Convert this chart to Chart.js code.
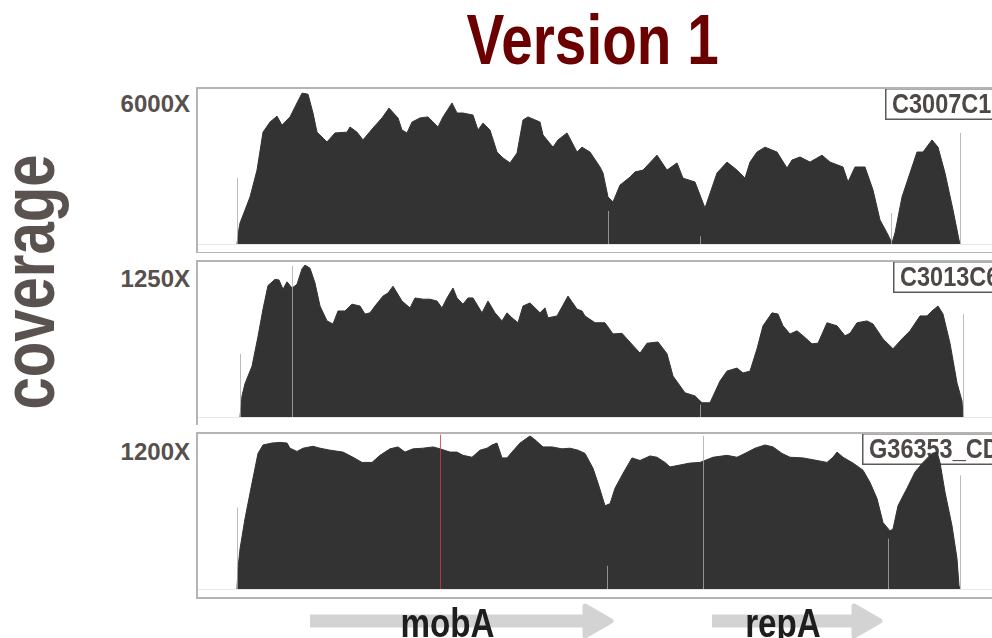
<!DOCTYPE html>
<html>
<head>
<meta charset="utf-8">
<script src="https://cdn.jsdelivr.net/npm/chart.js@4.4.0/dist/chart.umd.min.js"></script>
<style>
  html, body { margin: 0; padding: 0; background: #fff; }
  body {
    width: 992px; height: 638px; position: relative; overflow: hidden;
    font-family: "Liberation Sans", Arial, sans-serif; font-weight: bold;
  }
  canvas { position: absolute; left: 196px; }
  .title {
    position: absolute; left: 196px; width: 794px; top: 5px;
    text-align: center; font-size: 70px; line-height: 70px; color: #6b0000;
  }
  .title span { display: inline-block; transform: scaleX(0.81); }
  .ylab {
    position: absolute; left: 29px; top: 282px; white-space: nowrap;
    font-size: 74px; line-height: 74px; color: #5a524f;
    transform: translate(-50%, -50%) rotate(-90deg) scaleX(0.785);
  }
  .cap {
    position: absolute; right: 802px; font-size: 24px; line-height: 24px;
    color: #57504d; white-space: nowrap;
  }
</style>
</head>
<body>
<div class="title"><span>Version 1</span></div>
<div class="ylab">coverage</div>
<canvas id="c1" width="810" height="166" style="top:87px"></canvas>
<canvas id="c2" width="810" height="165" style="top:260px"></canvas>
<canvas id="c3" width="810" height="206" style="top:432px"></canvas>
<script>
// sample names (cut at the right edge like the original) and their y maximum
const samples = ['C3007C1', 'C3013C6', 'G36353_CD'];
const yMax = [6000, 1250, 1200];

// positions (bp) and coverage per sample
const pos1 = [0, 12, 18, 78, 120, 156, 198, 240, 270, 300, 318, 360, 390, 426, 456, 480, 540, 588, 660, 678,
  720, 756, 816, 870, 912, 966, 990, 1020, 1050, 1098, 1146, 1206, 1236, 1290, 1320, 1356, 1416, 1446, 1476, 1518,
  1560, 1596, 1638, 1680, 1716, 1746, 1818, 1836, 1896, 1926, 1980, 2040, 2070, 2118, 2178, 2196, 2226, 2256, 2298, 2358,
  2388, 2436, 2520, 2580, 2640, 2676, 2748, 2808, 2880, 2940, 3000, 3048, 3078, 3120, 3168, 3240, 3300, 3330, 3378, 3438,
  3510, 3558, 3636, 3666, 3708, 3768, 3816, 3858, 3900, 3930, 3948, 3990, 4038, 4080, 4116, 4170, 4206, 4248, 4296, 4332, 4338];
const cov1 = [0, 600, 810, 1820, 2860, 4330, 4720, 4950, 4600, 4800, 4920, 5460, 5840, 5800, 5070, 4330, 3950, 4300, 4330, 4530,
  4330, 4030, 4490, 4880, 5260, 4880, 4410, 4300, 4720, 4880, 4920, 4530, 4920, 5460, 5070, 5070, 4990, 4410, 4680, 4410,
  3560, 3330, 3140, 3520, 4800, 4920, 4720, 4220, 3750, 4030, 4300, 3560, 3750, 3560, 2980, 2750, 1820, 1630, 2280, 2590,
  2790, 2860, 3440, 2860, 3140, 2550, 2400, 1390, 2750, 3170, 2860, 2550, 3170, 3560, 3750, 3560, 2940, 3250, 3370, 3170,
  3440, 3170, 2980, 2400, 2980, 2980, 2090, 930, 430, 40, 430, 1820, 2750, 3560, 3560, 4030, 3750, 2750, 1320, 160, 0];

const pos2 = [18, 30, 48, 90, 126, 156, 186, 228, 252, 276, 300, 330, 360, 390, 408, 438, 468, 498, 540, 576,
  606, 648, 690, 738, 768, 798, 828, 876, 906, 936, 990, 1038, 1068, 1116, 1158, 1200, 1230, 1260, 1296, 1320,
  1356, 1386, 1416, 1470, 1506, 1548, 1590, 1620, 1650, 1686, 1716, 1758, 1818, 1848, 1866, 1920, 1986, 2040, 2070, 2088,
  2148, 2208, 2256, 2310, 2340, 2418, 2460, 2526, 2580, 2616, 2688, 2748, 2790, 2838, 2898, 2940, 3000, 3036, 3078, 3120,
  3156, 3210, 3246, 3276, 3318, 3360, 3396, 3450, 3486, 3540, 3600, 3648, 3678, 3720, 3780, 3816, 3876, 3936, 3990, 4038,
  4098, 4140, 4170, 4206, 4236, 4278, 4320, 4350, 4356];
const cov2 = [0, 170, 270, 410, 650, 870, 1060, 1110, 1105, 1030, 1090, 1040, 1070, 1195, 1225, 1200, 1080, 895, 775, 750,
  855, 855, 910, 895, 830, 840, 895, 975, 1000, 1055, 935, 880, 960, 950, 950, 935, 880, 960, 1040, 960,
  910, 960, 960, 840, 935, 840, 775, 840, 800, 760, 895, 920, 840, 880, 800, 815, 975, 870, 855, 815,
  760, 760, 670, 675, 630, 515, 595, 605, 510, 330, 195, 170, 115, 115, 290, 370, 395, 355, 370, 550,
  735, 840, 830, 735, 670, 695, 655, 590, 595, 760, 735, 655, 675, 760, 775, 750, 630, 550, 630, 695,
  815, 815, 855, 895, 830, 595, 275, 130, 0];

const pos3 = [0, 6, 18, 48, 90, 126, 156, 210, 258, 300, 318, 360, 396, 456, 498, 558, 636, 696, 750, 810,
  858, 918, 966, 1008, 1056, 1116, 1176, 1218, 1278, 1320, 1356, 1410, 1458, 1500, 1530, 1560, 1590, 1620, 1650, 1698,
  1758, 1788, 1836, 1890, 1950, 1998, 2046, 2088, 2136, 2166, 2208, 2238, 2268, 2316, 2370, 2418, 2478, 2520, 2568, 2598,
  2658, 2718, 2778, 2856, 2940, 3000, 3048, 3108, 3168, 3216, 3270, 3318, 3396, 3480, 3540, 3576, 3600, 3636, 3696, 3756,
  3798, 3840, 3876, 3918, 3936, 3966, 4020, 4068, 4116, 4170, 4200, 4218, 4248, 4290, 4320, 4332, 4338];
const cov3 = [0, 160, 310, 545, 820, 1050, 1115, 1130, 1135, 1130, 1090, 1065, 1090, 1105, 1090, 1075, 1060, 1020, 980, 980,
  1035, 1085, 1100, 1060, 1085, 1090, 1100, 1085, 1060, 1060, 1035, 1020, 1075, 1090, 1115, 1130, 1015, 1015, 1060, 1130,
  1185, 1155, 1100, 1100, 1085, 1090, 1075, 1050, 935, 820, 645, 660, 780, 895, 1015, 995, 1030, 1020, 980, 945,
  960, 975, 980, 1020, 1035, 1020, 1050, 1090, 1115, 1100, 1050, 1020, 1015, 995, 980, 1020, 1060, 1020, 975, 920,
  825, 700, 515, 450, 465, 645, 780, 905, 980, 1050, 1060, 980, 750, 490, 235, 25, 0];

// thin vertical marks (position, height in coverage units)
const markPos1 = [0, 2226, 2778, 3924, 4338];
const markTop1 = [2550, 1280, 300, 1200, 4300];
const markPos2 = [18, 330, 2778, 4356];
const markTop2 = [510, 1220, 100, 830];
const markPos3 = [0, 2220, 2796, 3906, 4338];
const markTop3 = [630, 180, 1185, 390, 880];
const redPos3 = [1218];
const redTop3 = [1195];

// genes under the bottom panel
const geneNames = ['mobA', 'repA'];
const geneStart = [438, 2850];
const geneEnd = [2256, 3870];

const panelPlugin = {
    id: 'panel',
    beforeDatasetsDraw(chart, args, opts) {
        const { ctx, chartArea: a, width } = chart;
        ctx.save();
        ctx.strokeStyle = '#e8e8e8';
        ctx.lineWidth = 1;
        ctx.beginPath();
        ctx.moveTo(0, a.bottom + 0.5);
        ctx.lineTo(width, a.bottom + 0.5);
        ctx.stroke();

        // sample name box
        ctx.fillStyle = '#fff';
        ctx.strokeStyle = '#5a5a5a';
        ctx.lineWidth = 1.5;
        ctx.fillRect(opts.labelX, a.top - 1, width, 31);
        ctx.strokeRect(opts.labelX + 0.75, a.top - 0.25, width, 30.5);
        ctx.fillStyle = '#4d4845';
        ctx.font = 'bold 28px "Liberation Sans", Arial, sans-serif';
        ctx.translate(opts.labelX + 7, a.top + 24);
        ctx.scale(0.84, 1);
        ctx.fillText(opts.label, 0, 0);
        ctx.restore();
    },
    afterDatasetsDraw(chart, args, opts) {
        const { ctx, chartArea: a, scales } = chart;
        const draw = (xs, tops, color) => {
            ctx.strokeStyle = color;
            ctx.lineWidth = 1;
            xs.forEach((p, i) => {
                const x = Math.round(scales.x.getPixelForValue(p)) + 0.5;
                ctx.beginPath();
                ctx.moveTo(x, a.bottom);
                ctx.lineTo(x, scales.y.getPixelForValue(tops[i]));
                ctx.stroke();
            });
        };
        ctx.save();
        draw(opts.marks, opts.markTops, 'rgba(170,170,170,0.8)');
        if (opts.red) draw(opts.red, opts.redTops, 'rgba(205,60,60,0.8)');
        ctx.restore();
    },
    afterDraw(chart, args, opts) {
        const { ctx, chartArea: a, width, scales } = chart;
        ctx.save();
        ctx.strokeStyle = '#b4b4b4';
        ctx.lineWidth = 2;
        ctx.strokeRect(1, a.top - 1, width + 10, a.bottom - a.top + 10);

        if (opts.genes) {
            const cy = a.bottom + 32;
            const head = 28;
            opts.genes.names.forEach((name, i) => {
                const x1 = scales.x.getPixelForValue(opts.genes.start[i]);
                const x2 = scales.x.getPixelForValue(opts.genes.end[i]);
                ctx.fillStyle = '#d3d3d3';
                ctx.fillRect(x1, cy - 6.5, x2 - head - x1 + 2, 13);
                ctx.beginPath();
                ctx.moveTo(x2 - head, cy - 15);
                ctx.lineTo(x2 - 2, cy);
                ctx.lineTo(x2 - head, cy + 15);
                ctx.closePath();
                ctx.strokeStyle = '#d3d3d3';
                ctx.lineWidth = 5;
                ctx.lineJoin = 'round';
                ctx.fill();
                ctx.stroke();

                ctx.save();
                ctx.fillStyle = '#1e1e1e';
                ctx.font = 'bold 40px "Liberation Sans", Arial, sans-serif';
                ctx.textAlign = 'center';
                ctx.translate((x1 + x2 - head) / 2, a.bottom + 48);
                ctx.scale(0.83, 1);
                ctx.fillText(name, 0, 0);
                ctx.restore();
            });
        }
        ctx.restore();
    }
};

function makePanel(id, pos, cov, i, extra, padBottom) {
    return new Chart(document.getElementById(id), {
        type: 'line',
        data: {
            datasets: [{
                data: pos.map((p, k) => ({ x: p, y: cov[k] })),
                fill: 'origin',
                backgroundColor: '#333333',
                borderColor: '#333333',
                borderWidth: 1,
                pointRadius: 0,
                tension: 0
            }]
        },
        options: {
            responsive: false,
            animation: false,
            layout: { padding: { top: 2, bottom: padBottom, left: 0, right: 0 } },
            scales: {
                x: { type: 'linear', min: -246, max: 4614, display: false },
                y: { min: 0, max: yMax[i], display: false }
            },
            plugins: {
                legend: { display: false },
                tooltip: { enabled: false },
                panel: Object.assign({ label: samples[i] }, extra)
            }
        },
        plugins: [panelPlugin]
    });
}

makePanel('c1', pos1, cov1, 0, { labelX: 689, marks: markPos1, markTops: markTop1 }, 9);
makePanel('c2', pos2, cov2, 1, { labelX: 697, marks: markPos2, markTops: markTop2 }, 8);
makePanel('c3', pos3, cov3, 2, {
    labelX: 666, marks: markPos3, markTops: markTop3, red: redPos3, redTops: redTop3,
    genes: { names: geneNames, start: geneStart, end: geneEnd }
}, 49);

// max coverage labels left of each panel
const capTops = [92, 267, 440];
yMax.forEach((m, i) => {
    const d = document.createElement('div');
    d.className = 'cap';
    d.style.top = capTops[i] + 'px';
    d.textContent = m + 'X';
    document.body.appendChild(d);
});
</script>
</body>
</html>
